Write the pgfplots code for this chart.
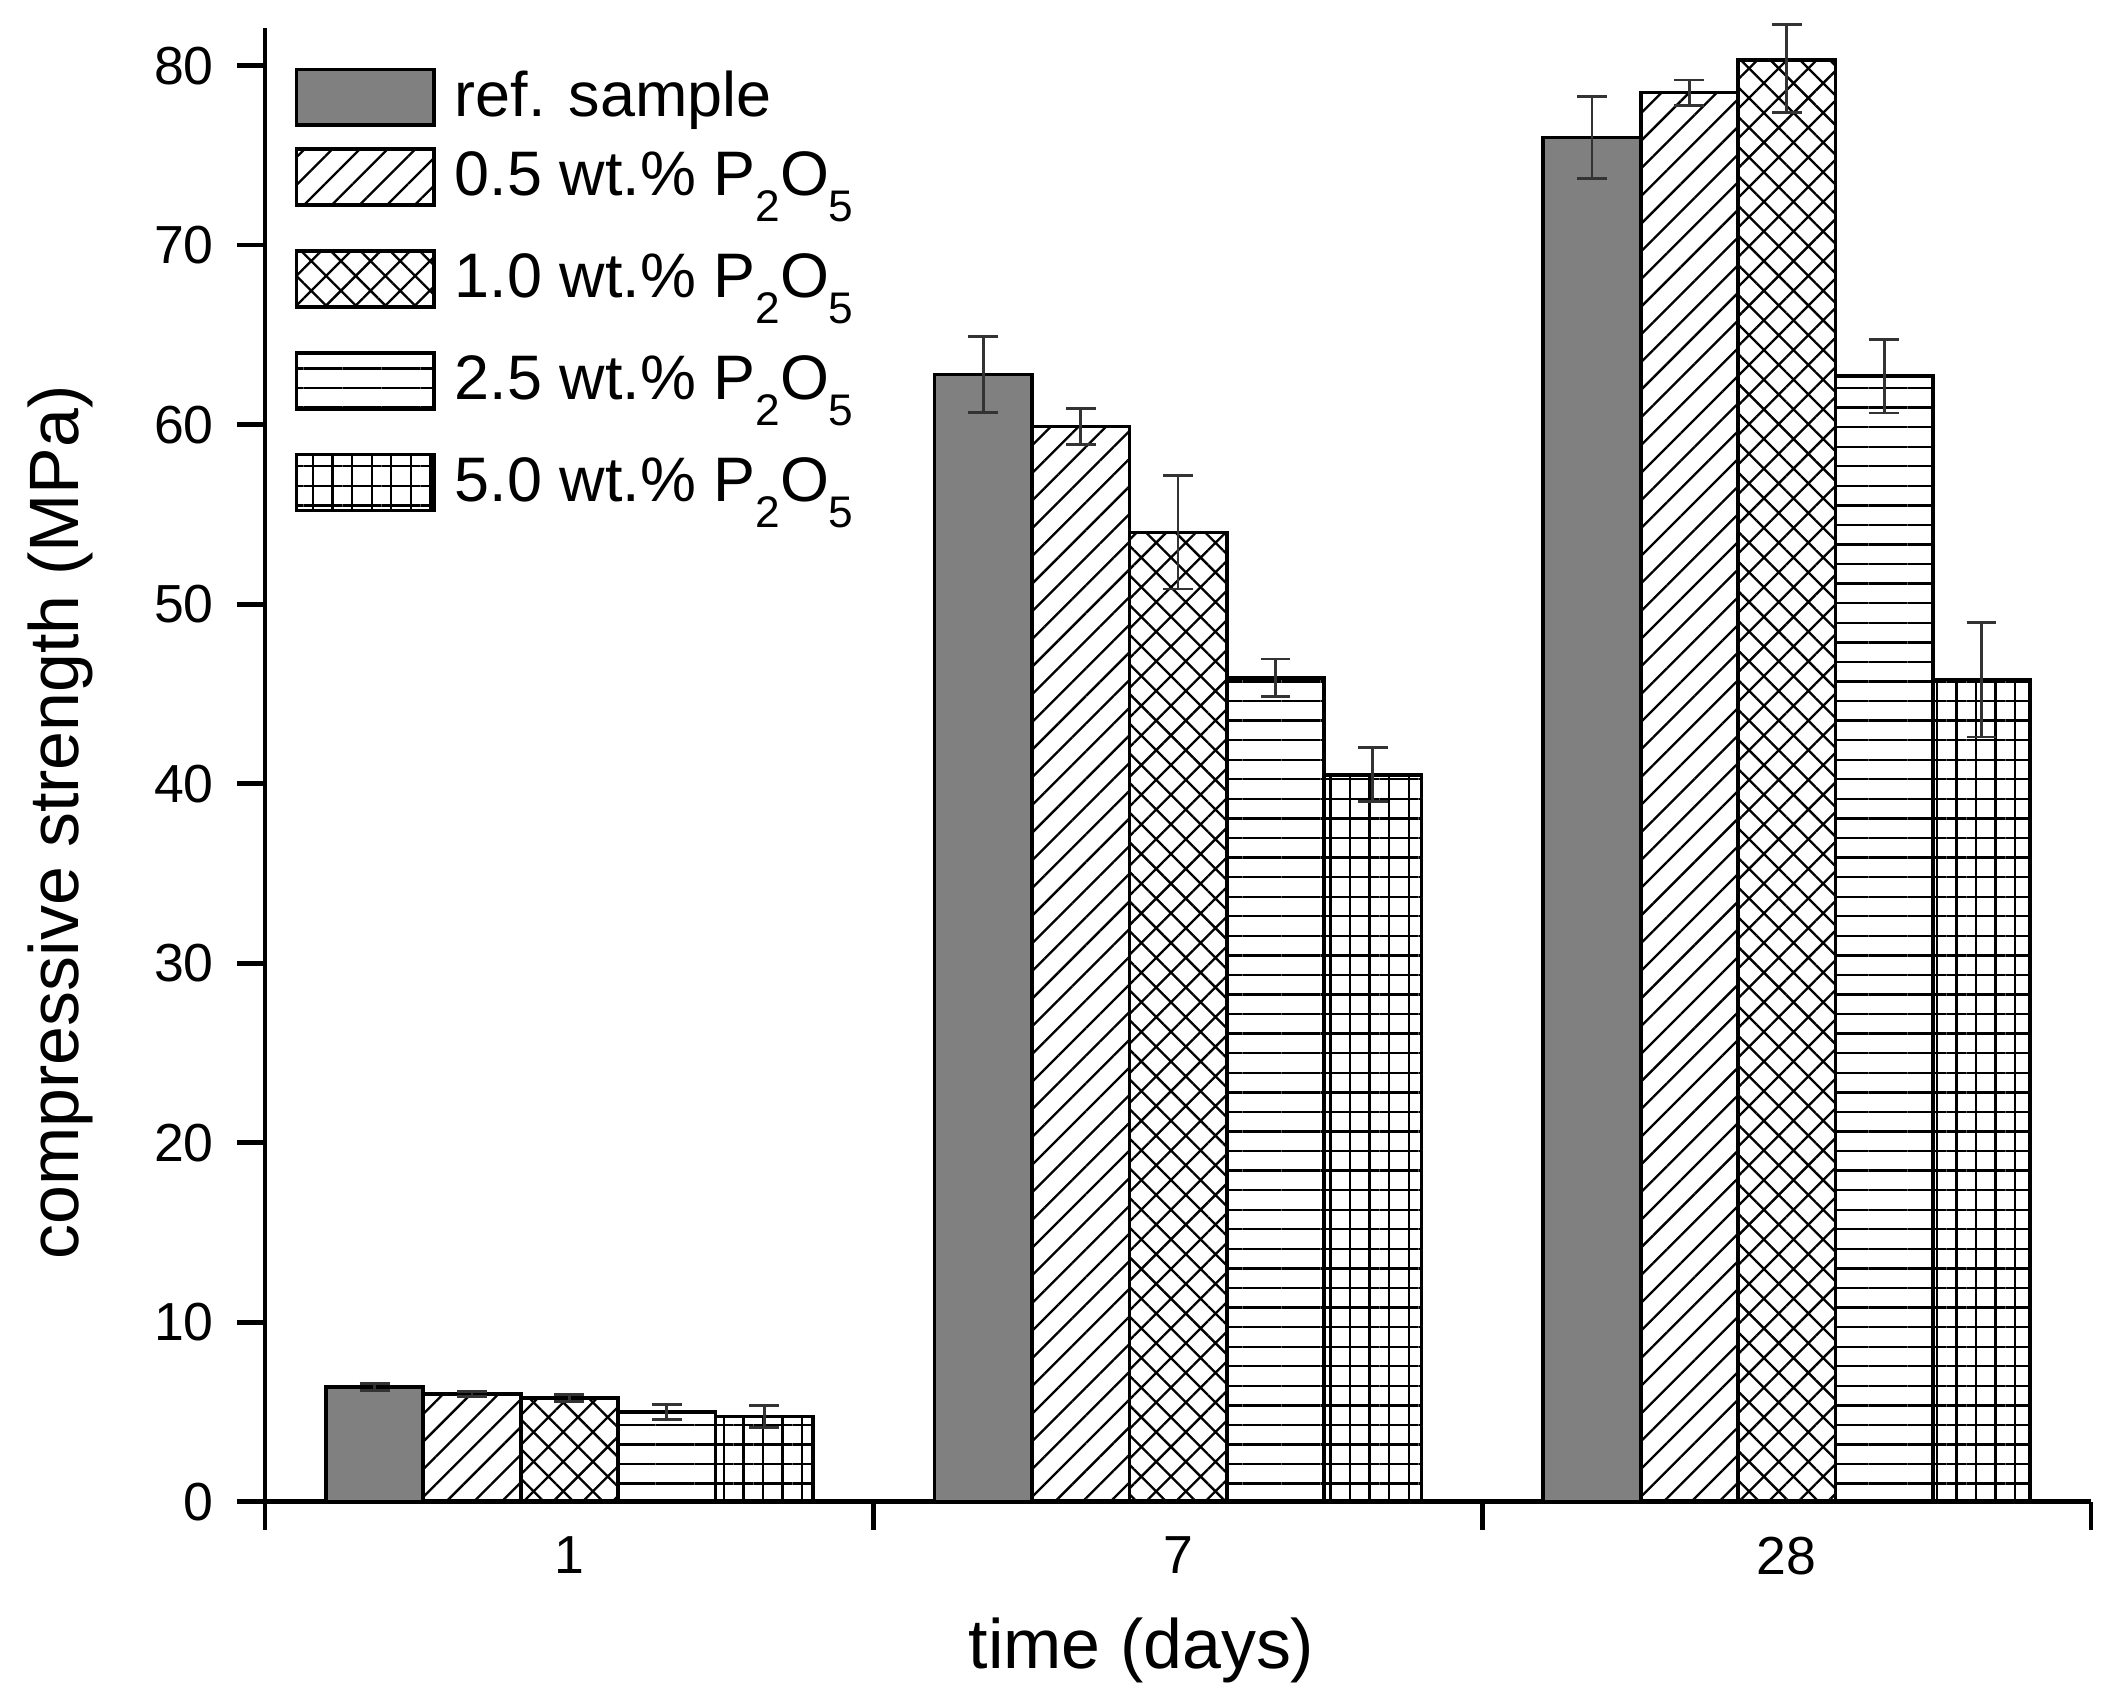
\documentclass[border=0pt]{standalone}
\usepackage{pgfplots}
\pgfplotsset{compat=1.18}
\usepackage{fontspec}
\setmainfont{Liberation Sans}
\usetikzlibrary{patterns.meta}
\newcommand{\sub}[1]{\raisebox{-5.6pt}{\fontsize{9.5}{11}\selectfont #1}}
\newcommand{\PO}{P\sub{2}O\sub{5}}

\begin{document}
\begin{tikzpicture}
\begin{axis}[
  width=392pt, height=316.4pt, scale only axis,
  xmin=-0.5, xmax=2.5, ymin=0, ymax=82.1,
  clip=false,
  ybar=0pt, bar width=0.16,
  axis x line*=bottom, axis y line*=left,
  axis line style={line width=1pt,-},
  xtick={-0.5,0.5,1.5,2.5}, xticklabels={},
  extra x ticks={0,1,2}, extra x tick labels={1,7,28},
  extra x tick style={major tick length=0pt, xticklabel style={yshift=-4pt}},
  ytick={0,10,...,80},
  tick align=outside, major tick length=6pt,
  tick style={line width=1pt, black},
  /pgf/number format/assume math mode=true,
  ticklabel style={font=\fontsize{11.5}{13}\selectfont},
  yticklabel style={xshift=-1.5pt},
  xlabel={time (days)}, ylabel={compressive strength (MPa)},
  label style={font=\fontsize{15}{18}\selectfont},
  xlabel style={at={(axis description cs:0.48,-0.101)}, anchor=center},
  ylabel style={at={(axis description cs:-0.112,0.461)}, anchor=center, rotate=0},
  legend style={draw=none, fill=none, at={(axis description cs:0.008,0.984)}, anchor=north west,
    font=\fontsize{13.5}{16}\selectfont, row sep=2pt,
    /tikz/every odd column/.append style={column sep=2pt}},
  legend cell align=left,
  legend image code/.code={\draw[#1, line width=0.8pt] (0pt,-6pt) rectangle (29.6pt,6pt);},
  every axis plot/.append style={draw=black, line width=0.8pt},
  error bars/y dir=both, error bars/y explicit,
  error bars/error bar style={line width=0.6pt, black!80},
  error bars/error mark options={rotate=90, mark size=3.2pt, line width=0.6pt, black!80},
  tall legend/.style={legend image code/.code={\draw[##1, line width=0.8pt] (0pt,-6pt) rectangle (29.6pt,6pt); \path (0pt,-12pt);}},
]
\coordinate (sw) at (rel axis cs:0,0);
\coordinate (ne) at (rel axis cs:1,1);
\addplot[fill=black!50] coordinates {(0,6.4) +- (0,0.2) (1,62.8) +- (0,2.1) (2,76.0) +- (0,2.3)};
\addplot[tall legend, pattern={Lines[angle=45,distance=4.2pt,line width=0.5pt]}, pattern color=black]
  coordinates {(0,6.0) +- (0,0.15) (1,59.9) +- (0,1.0) (2,78.5) +- (0,0.7)};
\addplot[tall legend, pattern={Hatch[angle=45,distance=4.5pt,line width=0.5pt]}, pattern color=black]
  coordinates {(0,5.8) +- (0,0.2) (1,54.0) +- (0,3.15) (2,80.3) += (0,2.0) -= (0,2.9)};
\addplot[tall legend, pattern={Lines[angle=0,distance=4.2pt,line width=0.5pt]}, pattern color=black]
  coordinates {(0,5.0) +- (0,0.4) (1,45.9) +- (0,1.05) (2,62.7) +- (0,2.05)};
\addplot[tall legend, pattern={Hatch[angle=0,distance=4.2pt,line width=0.5pt]}, pattern color=black]
  coordinates {(0,4.75) +- (0,0.6) (1,40.5) +- (0,1.5) (2,45.8) +- (0,3.2)};
\legend{ref. sample, 0.5 wt.\% \PO, 1.0 wt.\% \PO, 2.5 wt.\% \PO, 5.0 wt.\% \PO}
\end{axis}
\pgfresetboundingbox
\path ([shift={(-56.9pt,-42.3pt)}]sw) rectangle ([shift={(4.7pt,6pt)}]ne);
\end{tikzpicture}
\end{document}
